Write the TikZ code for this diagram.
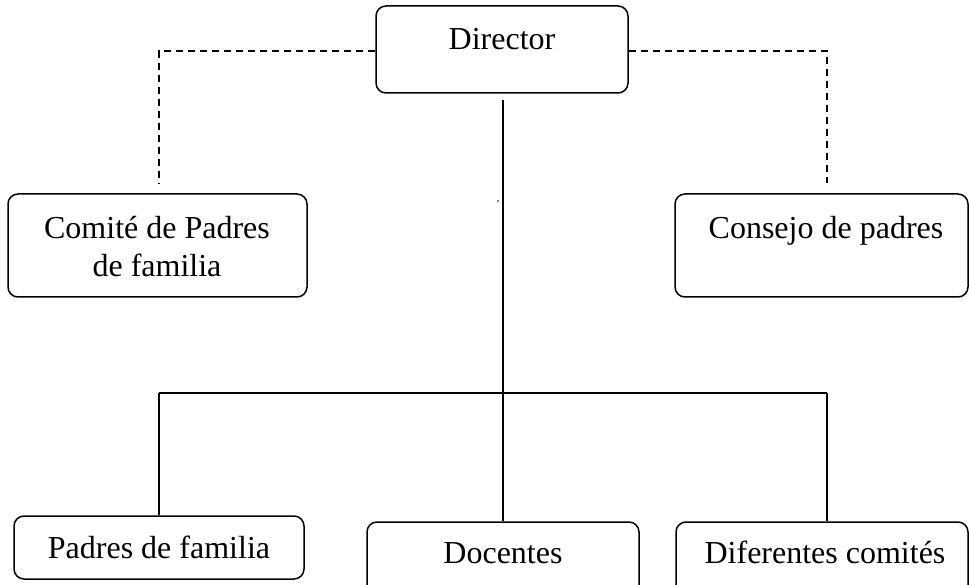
\documentclass[tikz,border=0pt]{standalone}
\usepackage{fontspec}
\setmainfont{Liberation Serif}
\begin{document}
\begin{tikzpicture}[x=1pt,y=-1pt,
  box/.style={draw,line width=1.5pt,rounded corners=10pt,inner sep=0pt},
  txt/.style={anchor=base,inner sep=0pt,font=\fontsize{32}{38}\selectfont},
  solidline/.style={line width=1.5pt},
  dashline/.style={line width=1.5pt,dash pattern=on 7pt off 5pt}]
\useasboundingbox (0,0) rectangle (969,585);
\clip (0,0) rectangle (969,585);
% boxes
\node[box,minimum width=252pt,minimum height=87pt] (dir) at (502,49.5) {};
\node[box,minimum width=299pt,minimum height=103pt] (com) at (157.5,245.5) {};
\node[box,minimum width=293pt,minimum height=103pt] (con) at (821.5,245.5) {};
\node[box,minimum width=290pt,minimum height=63pt] (pad) at (159,547.5) {};
\node[box,minimum width=272pt,minimum height=80pt] (doc) at (503,562) {};
\node[box,minimum width=292pt,minimum height=80pt] (dif) at (822,562) {};
% texts
\node[txt] (tdir) at (502,50) {Director};
\node[txt] (tcoma) at (157,239) {Comité de Padres};
\node[txt] (tcomb) at (157,277) {de familia};
\node[txt] (tcon) at (826,239) {Consejo de padres};
\node[txt] (tpad) at (159,558) {Padres de familia};
\node[txt] (tdoc) at (503,563) {Docentes};
\node[txt] (tdif) at (825,563) {Diferentes comités};
% connector points
\coordinate (dl) at (159,51);
\coordinate (dlend) at (159,183);
\coordinate (dr) at (827,51);
\coordinate (drend) at (827,183);
\coordinate (vtop) at (503,100);
\coordinate (hl) at (159,393);
\coordinate (hr) at (827,393);
% dashed connectors
\draw[dashline] (dir.west |- dl) -- (dl) -- (dlend);
\draw[dashline] (dir.east |- dr) -- (dr) -- (drend);
% solid connectors
\draw[solidline] (vtop) -- (doc.north);
\draw[solidline] (hl) -- (hr);
\draw[solidline] (hl) -- (pad.north -| hl);
\draw[solidline] (hr) -- (dif.north -| hr);
\fill (498,201) circle (0.9pt);
\end{tikzpicture}
\end{document}
